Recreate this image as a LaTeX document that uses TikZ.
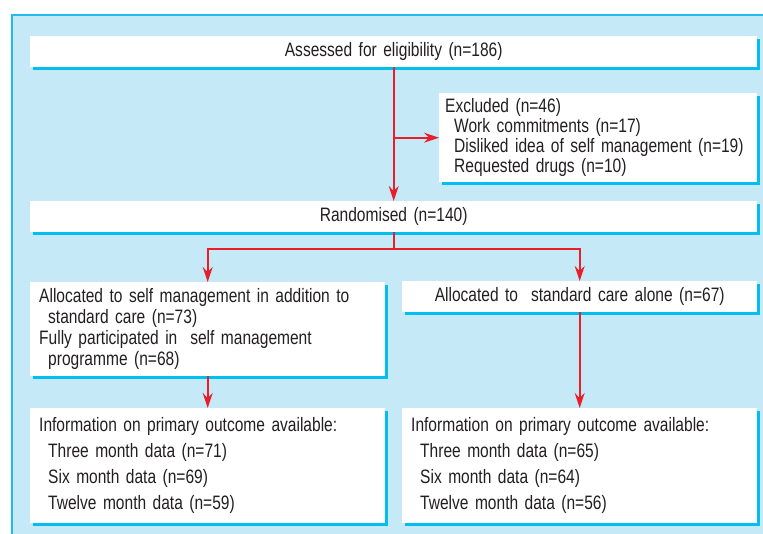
\documentclass[tikz,border=0pt]{standalone}
\usepackage{fontspec}
\setmainfont{Liberation Sans}[FakeStretch=0.8]
\usepackage{xcolor}
\usepackage{tikz}
\usetikzlibrary{
  arrows.meta,
  positioning,
  shadows
}
\definecolor{PanelBlue}{RGB}{198, 233, 248}
\definecolor{EdgeBlue}{RGB}{40, 185, 235}
\definecolor{ShadowCyan}{RGB}{0, 190, 240}
\definecolor{FlowRed}{RGB}{232, 30, 40}
\definecolor{TextGray}{RGB}{35, 31, 32}
\tikzset{
    flowbox/.style={fill=white, anchor=north west, inner xsep=9bp, inner ysep=0bp,
        text=TextGray, font=\fontsize{19.5}{20}\selectfont,
        drop shadow={shadow xshift=3bp, shadow yshift=-3bp, fill=ShadowCyan, opacity=1}},
    flowarrow/.style={color=FlowRed, line width=1.8bp, -{Stealth[length=15bp, width=10bp, inset=5bp]}}
}

\begin{document}
\begin{tikzpicture}[x=1bp, y=-1bp]
    \useasboundingbox (0,0) rectangle (763,534);
    \fill[PanelBlue] (12,15) rectangle (763,534);
    \draw[EdgeBlue, line width=1.2bp] (12,534) -- (12,15) -- (763,15);

    \node[flowbox, minimum width=727bp, minimum height=31bp, text width=709bp, align=center] (assess) at (30,36) {Assessed for eligibility (n=186)};
    \node[flowbox, inner xsep=6bp, minimum width=318bp, minimum height=89bp, text width=306bp, align=left] (excl) at (439,93)
        {Excluded (n=46)\\
        \hspace*{9bp}Work commitments (n=17)\\
        \hspace*{9bp}Disliked idea of self management (n=19)\\
        \hspace*{9bp}Requested drugs (n=10)};
    \node[flowbox, minimum width=727bp, minimum height=31bp, text width=709bp, align=center] (rand) at (30,201) {Randomised (n=140)};
    \node[flowbox, minimum width=355bp, minimum height=94bp, text width=337bp, align=left] (selfm) at (30,282)
        {Allocated to self management in addition to\\[1bp]
        \hspace*{9bp}standard care (n=73)\\[1bp]
        Fully participated in\ \ self management\\[1bp]
        \hspace*{9bp}programme (n=68)};
    \node[flowbox, minimum width=355bp, minimum height=31bp, text width=337bp, align=center] (stdc) at (402,281) {Allocated to\ \ standard care alone (n=67)};
    \node[flowbox, minimum width=355bp, minimum height=115bp, text width=337bp, align=left] (selfout) at (30,408)
        {Information on primary outcome available:\\[6bp]
        \hspace*{9bp}Three month data (n=71)\\[6bp]
        \hspace*{9bp}Six month data (n=69)\\[6bp]
        \hspace*{9bp}Twelve month data (n=59)};
    \node[flowbox, minimum width=355bp, minimum height=115bp, text width=337bp, align=left] (stdout) at (402,408)
        {Information on primary outcome available:\\[6bp]
        \hspace*{9bp}Three month data (n=65)\\[6bp]
        \hspace*{9bp}Six month data (n=64)\\[6bp]
        \hspace*{9bp}Twelve month data (n=56)};

    \draw[flowarrow] (assess.south) -- (rand.north);
    \draw[flowarrow] (assess.south |- excl.west) -- (excl.west);
    \draw[flowarrow] (rand.south) -- ++(0,17) coordinate (split) -| (selfm.north);
    \draw[flowarrow] (split) -| (stdc.north);
    \draw[flowarrow] (selfm.south) -- (selfout.north);
    \draw[flowarrow] (stdc.south) -- (stdout.north);
\end{tikzpicture}
\end{document}
